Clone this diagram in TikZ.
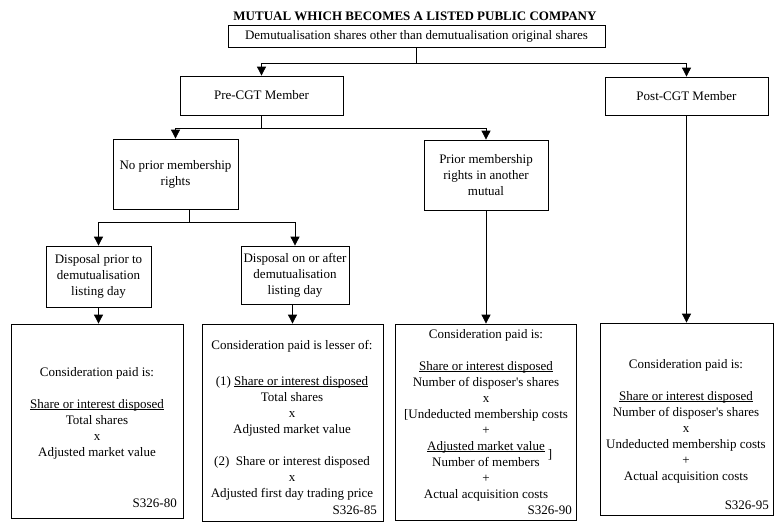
\documentclass[tikz,border=0pt]{standalone}
\usepackage{fontspec}
\setmainfont{Liberation Serif}
\usetikzlibrary{arrows.meta,calc}
\newcommand\dtxt{\fontsize{13}{16}\selectfont}
\newcommand\ulin[1]{\setbox0\hbox{#1}\rlap{\rule[-2pt]{\wd0}{0.7pt}}\box0}
\begin{document}
\begin{tikzpicture}[x=1pt,y=-1pt,
  box/.style={draw,line width=0.8pt,inner sep=0pt,align=center,font=\dtxt},
  arr/.style={-{Triangle[width=9pt,length=9pt]},line width=0.8pt},
  ln/.style={line width=0.8pt},
  txt/.style={inner sep=0pt,align=center,font=\dtxt},
  code/.style={inner sep=0pt,anchor=base east,font=\dtxt}]
\useasboundingbox (0,0) rectangle (781,531);
\node[inner sep=0pt,font=\bfseries\dtxt] (title) at (415,16) {MUTUAL WHICH BECOMES A LISTED PUBLIC COMPANY};
\node[box,minimum width=377pt,minimum height=22pt] (top) at (416.5,36) {Demutualisation shares other than demutualisation original shares};
\node[box,minimum width=163pt,minimum height=39pt] (pre) at (261.5,95.5) {Pre-CGT Member};
\node[box,minimum width=163pt,minimum height=38pt] (post) at (686.5,96) {Post-CGT Member};
\node[box,minimum width=125pt,minimum height=70pt] (noprior) at (175.5,174) {No prior membership\\rights};
\node[box,minimum width=124pt,minimum height=70pt] (prior) at (486,175) {Prior membership\\rights in another\\mutual};
\node[box,minimum width=105pt,minimum height=61pt] (dprior) at (98.5,276.5) {Disposal prior to\\demutualisation\\listing day};
\node[box,minimum width=108pt,minimum height=58pt] (dafter) at (295,275) {Disposal on or after\\demutualisation\\listing day};
\node[box,minimum width=172pt,minimum height=194pt] (b1) at (97,421) {};
\node[box,minimum width=181pt,minimum height=197pt] (b2) at (292.5,422.5) {};
\node[box,minimum width=181pt,minimum height=196pt] (b3) at (485.5,422) {};
\node[box,minimum width=173pt,minimum height=192pt] (b4) at (686.5,419) {};
% texts of the bottom boxes
\node[txt] (t1) at (97,413) {Consideration paid is:\\[16pt]\ulin{Share or interest disposed}\\Total shares\\x\\Adjusted market value};
\node[txt] (t2) at (292,420) {Consideration paid is lesser of:\\[20pt](1) \ulin{Share or interest disposed}\\Total shares\\x\\Adjusted market value\\[16pt](2)\ \ Share or interest disposed\\x\\Adjusted first day trading price};
\node[txt] (t3) at (486,415) {Consideration paid is:\\[16pt]\ulin{Share or interest disposed}\\Number of disposer\textquotesingle s shares\\x\\{[}Undeducted membership costs\\+\\\ulin{Adjusted market value}\\Number of members\\+\\Actual acquisition costs};
\node[txt] (br) at (550,455) {]};
\node[txt] (t4) at (686,421) {Consideration paid is:\\[16pt]\ulin{Share or interest disposed}\\Number of disposer\textquotesingle s shares\\x\\Undeducted membership costs\\+\\Actual acquisition costs};
\node[code] (c1) at (177,507) {S326-80};
\node[code] (c2) at (377,514) {S326-85};
\node[code] (c3) at (572,514) {S326-90};
\node[code] (c4) at (769,509) {S326-95};
% connectors
\draw[ln] (top.south) -- ++(0,16) coordinate (j1);
\draw[arr] (j1) -| (pre.north);
\draw[arr] (j1) -| (post.north);
\draw[ln] (pre.south) -- ++(0,13) coordinate (j2);
\draw[arr] (j2) -| (noprior.north);
\draw[arr] (j2) -| (prior.north);
\coordinate (j3) at (189,222);
\draw[ln] (noprior.south -| j3) -- (j3);
\draw[arr] (j3) -| (dprior.north);
\draw[arr] (j3) -| (dafter.north);
\draw[arr] (dprior.south) -- (dprior.south |- b1.north);
\draw[arr] (b2.north |- dafter.south) -- (b2.north);
\draw[arr] (prior.south) -- (prior.south |- b3.north);
\draw[arr] (post.south) -- (post.south |- b4.north);
\end{tikzpicture}
\end{document}
